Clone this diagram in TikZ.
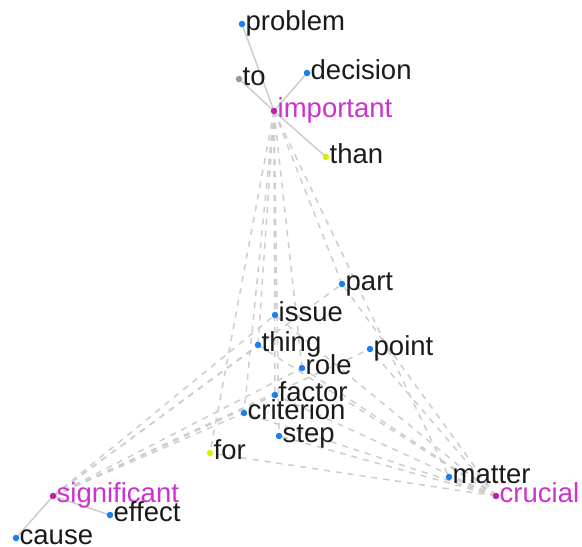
\documentclass[tikz,border=0pt]{standalone}
\usepackage{fontspec}
\setmainfont{Liberation Sans}
\usetikzlibrary{backgrounds,calc}
\definecolor{dotblue}{HTML}{1A80F0}
\definecolor{dotmag}{HTML}{C020B0}
\definecolor{txtmag}{HTML}{CC33CC}
\definecolor{dotyel}{HTML}{D8F000}
\definecolor{dotgray}{HTML}{999999}
\definecolor{txtblack}{HTML}{1A1A1A}
\definecolor{edgegray}{HTML}{CDCDCD}
\tikzset{
  dotnode/.style={circle, fill=#1, inner sep=0pt, minimum size=6.5pt},
  wordtxt/.style={anchor=base west, inner sep=0pt, font=\fontsize{27.5}{27.5}\selectfont, text=#1},
  solidedge/.style={draw=edgegray, line width=1.5pt},
  dashedge/.style={draw=edgegray, line width=1.5pt, dash pattern=on 6pt off 6pt},
}
\newcommand\wordnode[6]{%
  \node[dotnode=#4] (#1) at (#2,-#3) {};
  \node[wordtxt=#5] (#1-t) at ($(#1)+(3.5,-6)$) {#6};
}
\begin{document}
\begin{tikzpicture}[x=1pt,y=1pt]
\useasboundingbox (0,0) rectangle (582,-547);
\wordnode{problem}{242}{24}{dotblue}{txtblack}{problem}
\wordnode{to}{239}{79}{dotgray}{txtblack}{to}
\wordnode{decision}{307}{73}{dotblue}{txtblack}{decision}
\wordnode{important}{274}{111}{dotmag}{txtmag}{important}
\wordnode{than}{326}{157}{dotyel}{txtblack}{than}
\wordnode{part}{342}{284}{dotblue}{txtblack}{part}
\wordnode{issue}{275}{315}{dotblue}{txtblack}{issue}
\wordnode{thing}{258}{345}{dotblue}{txtblack}{thing}
\wordnode{point}{370}{349}{dotblue}{txtblack}{point}
\wordnode{role}{302}{368}{dotblue}{txtblack}{role}
\wordnode{factor}{275}{395}{dotblue}{txtblack}{factor}
\wordnode{criterion}{244}{413}{dotblue}{txtblack}{criterion}
\wordnode{step}{279}{436}{dotblue}{txtblack}{step}
\wordnode{for}{210}{453}{dotyel}{txtblack}{for}
\wordnode{matter}{449}{477}{dotblue}{txtblack}{matter}
\wordnode{crucial}{496}{496}{dotmag}{txtmag}{crucial}
\wordnode{significant}{53}{496}{dotmag}{txtmag}{significant}
\wordnode{effect}{110}{515}{dotblue}{txtblack}{effect}
\wordnode{cause}{16}{538}{dotblue}{txtblack}{cause}
\begin{scope}[on background layer]
  \foreach \n in {problem,to,decision,than}
    \draw[solidedge] (important.center) -- (\n.center);
  \foreach \n in {cause,effect}
    \draw[solidedge] (significant.center) -- (\n.center);
  \foreach \n in {part,issue,thing,role,factor,criterion,step,for,matter}
    \draw[dashedge] (important.center) -- (\n.center);
  \foreach \n in {part,issue,thing,role,point,factor,criterion}
    \draw[dashedge] (significant.center) -- (\n.center);
  \foreach \n in {part,issue,thing,role,point,factor,criterion,step,for,matter}
    \draw[dashedge] (crucial.center) -- (\n.center);
\end{scope}
\end{tikzpicture}
\end{document}
